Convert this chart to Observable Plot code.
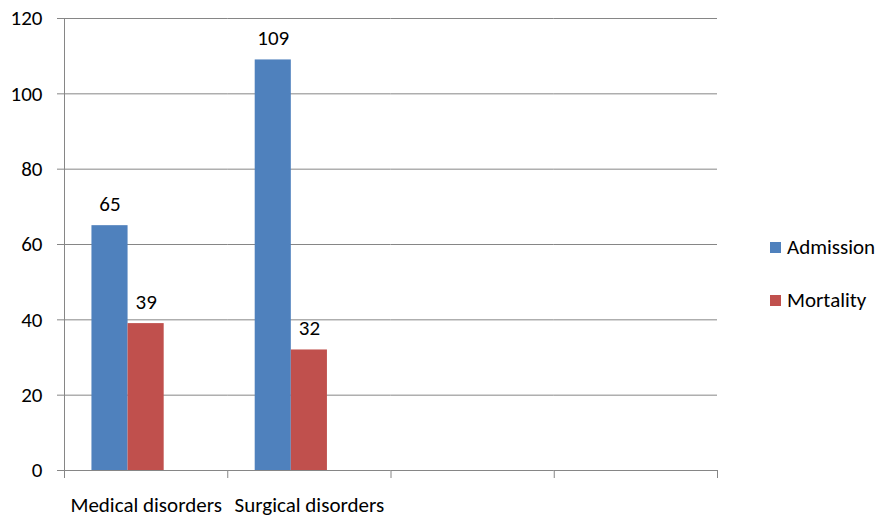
<!DOCTYPE html>
<html><head><meta charset="utf-8">
<script src="https://cdn.jsdelivr.net/npm/d3@7"></script>
<script src="https://cdn.jsdelivr.net/npm/@observablehq/plot@0.6"></script>
<style>
body{margin:0;background:#fff;font-family:Carlito, Lato, sans-serif;}
#wrap{position:relative;width:888px;height:518px;}
#legend{position:absolute;left:770px;top:236px;font-size:21px;color:#000;}
.item{display:flex;align-items:center;height:22px;margin-bottom:31px;line-height:22px}
.sw{width:11px;height:11px;margin-right:6px;flex:none}
</style></head><body><div id="wrap"></div>
<script>
const categories = ["Medical disorders", "Surgical disorders", " ", "  "];
const series = ["Admission", "Mortality"];
const admission = [65, 109];
const mortality = [39, 32];
const yTicks = [0, 20, 40, 60, 80, 100, 120];
const colors = ["#4F81BD", "#C0504D"];

const data = [];
admission.forEach((v, i) => {
  data.push({category: categories[i], series: "Admission", value: v});
  data.push({category: categories[i], series: "Mortality", value: mortality[i]});
});
const grid = categories.flatMap(c => yTicks.map(t => ({category: c, y: t})));

const W = 888, H = 518, mT = 18, mB = 48, mL = 64, mR = 171;
const gray = "#868686";
const FS = 21;

const plot = Plot.plot({
  width: W, height: H, marginLeft: mL, marginRight: mR, marginTop: mT, marginBottom: mB,
  style: {fontFamily: "Carlito, Lato, sans-serif", fontSize: FS + "px", color: "#000", background: "#fff", overflow: "visible"},
  fx: {domain: categories, padding: 0, label: null, round: false},
  x: {domain: [...series, "_"], paddingInner: 0, paddingOuter: 0.76, axis: null, round: false},
  y: {domain: [0, 120], label: null},
  color: {domain: series, range: colors},
  marks: [
    Plot.ruleY(grid, {fx: "category", y: "y", stroke: gray}),
    Plot.barY(data, {fx: "category", x: "series", y: "value", fill: "series"}),
    Plot.text(data, {fx: "category", x: "series", y: "value", text: d => String(d.value), lineAnchor: "bottom", dy: -15, fill: "#000", fontSize: FS}),
    Plot.frame({anchor: "left", facetAnchor: "left", stroke: gray, strokeOpacity: 1}),
    Plot.frame({anchor: "left", stroke: gray, strokeOpacity: 1, insetTop: H - mT - mB, insetBottom: -7}),
    Plot.frame({anchor: "right", facetAnchor: "right", stroke: gray, strokeOpacity: 1, insetTop: H - mT - mB, insetBottom: -7}),
    Plot.axisY({ticks: yTicks, tickSize: 7, tickPadding: 15, stroke: gray, label: null, fontSize: FS}),
    Plot.axisFx({anchor: "bottom", tickSize: 0, tickPadding: 27, label: null, fontSize: FS})
  ]
});

const wrap = document.getElementById("wrap");
wrap.appendChild(plot);
const legend = document.createElement("div");
legend.id = "legend";
series.forEach((s, i) => {
  const it = document.createElement("div");
  it.className = "item";
  it.innerHTML = `<span class="sw" style="background:${colors[i]}"></span><span>${s}</span>`;
  legend.appendChild(it);
});
wrap.appendChild(legend);
</script></body></html>
